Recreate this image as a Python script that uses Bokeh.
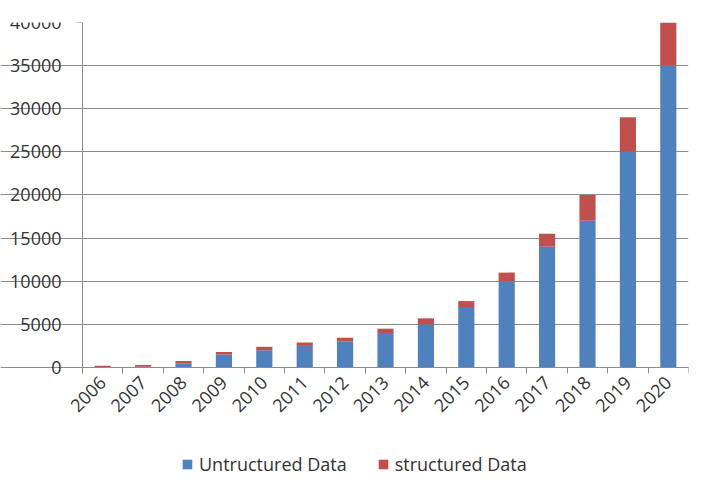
from bokeh.plotting import figure
from bokeh.models import ColumnDataSource, FixedTicker, Legend, NumeralTickFormatter
from bokeh.embed import file_html
from bokeh.resources import INLINE
import math

years = ["2006", "2007", "2008", "2009", "2010", "2011", "2012", "2013",
         "2014", "2015", "2016", "2017", "2018", "2019", "2020"]
unstructured = [50, 100, 500, 1500, 2000, 2500, 3000, 4000,
                5000, 7000, 10000, 14000, 17000, 25000, 35000]
structured = [150, 200, 250, 300, 400, 400, 450, 500,
              700, 700, 1000, 1500, 3000, 4000, 5000]
y_ticks = [0, 5000, 10000, 15000, 20000, 25000, 30000, 35000, 40000]

BLUE = "#4F81BD"
RED = "#C0504D"
TEXT = "#333333"
GRID = "#8C8C8C"
FONT = "Open Sans"

xs = list(range(len(years)))
source = ColumnDataSource(dict(x=xs, unstructured=unstructured, structured=structured))

x_lo = -0.5
x_hi = len(years) - 0.5

# frame covers the label areas too; axes are placed at fixed data locations
p = figure(frame_width=688, frame_height=456, output_backend="svg", toolbar_location=None,
           x_range=(-2.53, x_hi), y_range=(-12870, 40000),
           min_border_left=0, min_border_right=9, min_border_top=22, min_border_bottom=0)
p.outline_line_color = None
p.background_fill_color = "white"
p.border_fill_color = "white"

rs = p.vbar_stack(["unstructured", "structured"], x="x", width=0.4,
                  color=[BLUE, RED], source=source, line_color=None)

# y axis at the left edge of the categories
p.yaxis.fixed_location = x_lo
p.yaxis.ticker = FixedTicker(ticks=y_ticks)
p.yaxis.bounds = (0, 40000)
p.yaxis.formatter = NumeralTickFormatter(format="0")
p.yaxis.axis_line_color = GRID
p.yaxis.major_tick_line_color = GRID
p.yaxis.major_tick_out = 6
p.yaxis.major_tick_in = 0
p.yaxis.minor_tick_line_color = None
p.yaxis.major_label_text_font = FONT
p.yaxis.major_label_text_font_size = "18px"
p.yaxis.major_label_text_color = TEXT
p.yaxis.major_label_standoff = 15

# x axis at zero
p.xaxis.fixed_location = 0
p.xaxis.bounds = (x_lo, x_hi)
p.xaxis.ticker = FixedTicker(ticks=xs, minor_ticks=[i - 0.5 for i in range(len(years) + 1)])
p.xaxis.major_label_overrides = {i: y for i, y in enumerate(years)}
p.xaxis.major_label_orientation = math.pi / 4
p.xaxis.axis_line_color = GRID
p.xaxis.major_tick_line_color = None
p.xaxis.minor_tick_line_color = GRID
p.xaxis.minor_tick_out = 6
p.xaxis.minor_tick_in = 0
p.xaxis.major_label_text_font = FONT
p.xaxis.major_label_text_font_size = "18px"
p.xaxis.major_label_text_color = TEXT
p.xaxis.major_label_standoff = 6

p.xgrid.grid_line_color = None
p.ygrid.ticker = FixedTicker(ticks=y_ticks)
p.ygrid.bounds = (x_lo, x_hi)
p.ygrid.grid_line_color = GRID
p.ygrid.grid_line_width = 1

legend = Legend(items=[("Untructured Data", [rs[0]]), ("structured Data", [rs[1]])],
                orientation="horizontal", location=(181, 2))
legend.label_text_font = FONT
legend.label_text_font_size = "18px"
legend.label_text_color = TEXT
legend.glyph_width = 12
legend.glyph_height = 12
legend.label_standoff = 6
legend.spacing = 30
legend.border_line_color = None
legend.background_fill_alpha = 0
legend.padding = 4
legend.margin = 0
p.add_layout(legend)

open("out.html", "w").write(file_html(p, INLINE))
